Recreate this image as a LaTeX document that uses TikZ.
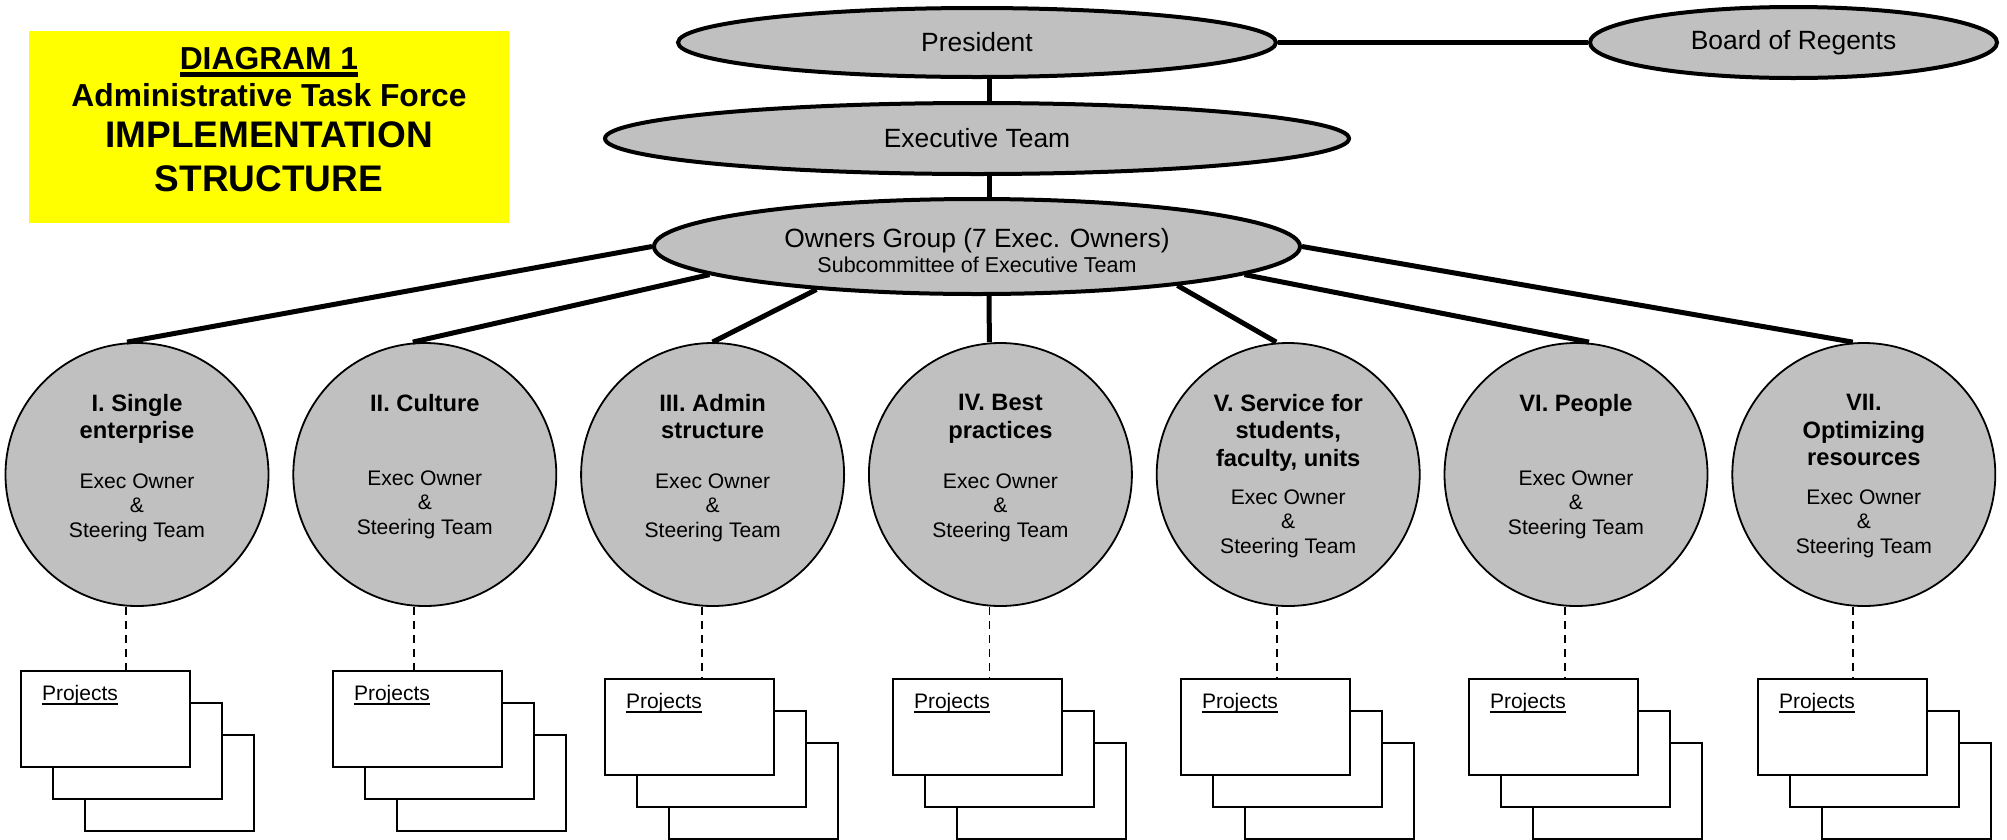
\documentclass[tikz,border=0pt]{standalone}
\usepackage{fontspec}
\setmainfont{Liberation Sans}
\usepackage{tikz}
\usetikzlibrary{shapes,positioning,calc}
\definecolor{ovalGray}{HTML}{C0C0C0}
\definecolor{titleYellow}{HTML}{FFFF00}

% underline with its own depth and thickness
\newcommand{\ulword}[3]{\setbox0=\hbox{#3}\leavevmode\rlap{\rule[#1]{\wd0}{#2}}\box0}

\begin{document}
\begin{tikzpicture}[
            x=1pt, y=-1pt,
            oval/.style={
                    ellipse,
                    draw=black,
                    fill=ovalGray,
                    line width=4pt,
                    inner sep=0pt,
                    font=\fontsize{26.4}{25}\selectfont
                },
            task/.style={
                    circle,
                    draw=black,
                    fill=ovalGray,
                    line width=1.8pt,
                    minimum size=263pt,
                    inner sep=0pt
                },
            taskname/.style={
                    anchor=north,
                    align=center,
                    inner sep=0pt,
                    font=\fontsize{23.7}{27.5}\selectfont\bfseries
                },
            owner/.style={
                    anchor=north,
                    align=center,
                    inner sep=0pt,
                    font=\fontsize{21.1}{24.5}\selectfont
                },
            stack/.style={
                    rectangle,
                    draw=black,
                    fill=white,
                    line width=1.8pt,
                    minimum width=169pt,
                    minimum height=96pt
                },
            projbox/.style={
                    stack,
                    inner xsep=21pt,
                    inner ysep=0pt,
                    text width=127pt,
                    text height=29pt,
                    text depth=67pt,
                    align=left,
                    font=\fontsize{21}{24}\selectfont
                },
            link/.style={
                    line width=5pt
                },
            dashlink/.style={
                    line width=1.8pt,
                    dash pattern=on 8pt off 6pt
                }
        ]
        \useasboundingbox (0,0) rectangle (2007,839);

        % Titre
        \node[fill=titleYellow, minimum width=480pt, minimum height=192pt, inner sep=0pt] (titlebox) at (269,127) {};
        \node[anchor=north, align=center, inner sep=0pt, font=\fontsize{31.8}{37}\selectfont\bfseries] (title) at (269,47.5)
            {\ulword{-6.7pt}{5pt}{DIAGRAM 1}\\ Administrative Task Force\\[4pt]
             \fontsize{37}{41}\selectfont IMPLEMENTATION\\[7pt] \fontsize{37}{41}\selectfont STRUCTURE};

        % Direction
        \node[oval, minimum width=598pt, minimum height=69pt] (pres) at (977,42.5) {President};
        \node[oval, minimum width=744pt, minimum height=71pt, below=22pt of pres] (exec) {Executive Team};
        \node[oval, minimum width=646pt, minimum height=95pt, below=21pt of exec, align=center] (owners)
            {\rule{0pt}{27pt}Owners Group (7 Exec. Owners)\\ \fontsize{21.5}{24}\selectfont Subcommittee of Executive Team};
        \node[oval, minimum width=407pt, minimum height=71pt, right=310pt of pres] (board) {Board of Regents};

        % Sept chantiers
        \node[task] (c1) at (137,474.5) {};
        \node[task, right=23pt of c1] (c2) {};
        \node[task, right=23pt of c2] (c3) {};
        \node[task, right=23pt of c3] (c4) {};
        \node[task, right=23pt of c4] (c5) {};
        \node[task, right=23pt of c5] (c6) {};
        \node[task, right=23pt of c6] (c7) {};

        \node[taskname] (n1) at ([yshift=-52pt]c1.north) {I. Single\\enterprise};
        \node[taskname] (n2) at ([yshift=-52pt]c2.north) {II. Culture};
        \node[taskname] (n3) at ([yshift=-52pt]c3.north) {III. Admin\\structure};
        \node[taskname] (n4) at ([yshift=-52pt]c4.north) {IV. Best\\practices};
        \node[taskname] (n5) at ([yshift=-52pt]c5.north) {V. Service for\\students,\\faculty, units};
        \node[taskname] (n6) at ([yshift=-52pt]c6.north) {VI. People};
        \node[taskname] (n7) at ([yshift=-52pt]c7.north) {VII.\\Optimizing\\resources};

        \node[owner] (o1) at ([yshift=1pt]c1.center) {Exec Owner\\\&\\Steering Team};
        \node[owner] (o2) at ([yshift=4pt]c2.center) {Exec Owner\\\&\\Steering Team};
        \node[owner] (o3) at ([yshift=1pt]c3.center) {Exec Owner\\\&\\Steering Team};
        \node[owner] (o4) at ([yshift=1pt]c4.center) {Exec Owner\\\&\\Steering Team};
        \node[owner] (o5) at ([yshift=-15pt]c5.center) {Exec Owner\\\&\\Steering Team};
        \node[owner] (o6) at ([yshift=4pt]c6.center) {Exec Owner\\\&\\Steering Team};
        \node[owner] (o7) at ([yshift=-15pt]c7.center) {Exec Owner\\\&\\Steering Team};

        % Piles de projets
        \coordinate (p1) at (105.5,719);
        \coordinate (p2) at (417.5,719);
        \coordinate (p3) at (689.5,727);
        \coordinate (p4) at (977.5,727);
        \coordinate (p5) at (1265.5,727);
        \coordinate (p6) at (1553.5,727);
        \coordinate (p7) at (1842.5,727);

        \node[stack] (p1c) at ([shift={(64,64)}]p1) {};
        \node[stack] (p1b) at ([shift={(32,32)}]p1) {};
        \node[projbox] (p1a) at (p1) {\ulword{-4.5pt}{2pt}{Projects}};
        \node[stack] (p2c) at ([shift={(64,64)}]p2) {};
        \node[stack] (p2b) at ([shift={(32,32)}]p2) {};
        \node[projbox] (p2a) at (p2) {\ulword{-4.5pt}{2pt}{Projects}};
        \node[stack] (p3c) at ([shift={(64,64)}]p3) {};
        \node[stack] (p3b) at ([shift={(32,32)}]p3) {};
        \node[projbox] (p3a) at (p3) {\ulword{-4.5pt}{2pt}{Projects}};
        \node[stack] (p4c) at ([shift={(64,64)}]p4) {};
        \node[stack] (p4b) at ([shift={(32,32)}]p4) {};
        \node[projbox] (p4a) at (p4) {\ulword{-4.5pt}{2pt}{Projects}};
        \node[stack] (p5c) at ([shift={(64,64)}]p5) {};
        \node[stack] (p5b) at ([shift={(32,32)}]p5) {};
        \node[projbox] (p5a) at (p5) {\ulword{-4.5pt}{2pt}{Projects}};
        \node[stack] (p6c) at ([shift={(64,64)}]p6) {};
        \node[stack] (p6b) at ([shift={(32,32)}]p6) {};
        \node[projbox] (p6a) at (p6) {\ulword{-4.5pt}{2pt}{Projects}};
        \node[stack] (p7c) at ([shift={(64,64)}]p7) {};
        \node[stack] (p7b) at ([shift={(32,32)}]p7) {};
        \node[projbox] (p7a) at (p7) {\ulword{-4.5pt}{2pt}{Projects}};

        % Liens hierarchiques
        \draw[link] (pres.east) -- (board.west);
        \draw[link] ([xshift=12pt]pres.south) -- ([xshift=12pt]exec.north);
        \draw[link] ([xshift=12pt]exec.south) -- ([xshift=12pt]owners.north);

        \draw[link] (owners.west) -- ([xshift=-10pt]c1.north);
        \draw[link] (owners.186) -- ([xshift=-12pt]c2.north);
        \draw[link] (owners.195) -- (c3.north);
        \draw[link] ([xshift=12pt]owners.south) -- ([xshift=-11pt]c4.north);
        \draw[link] (owners.349.6) -- ([xshift=-12pt]c5.north);
        \draw[link] (owners.354) -- ([xshift=13pt]c6.north);
        \draw[link] (owners.east) -- ([xshift=-11pt]c7.north);

        % Liens vers les projets
        \draw[dashlink] ([xshift=-11pt]c1.south) -- ([xshift=-11pt]c1.south |- p1a.north);
        \draw[dashlink] ([xshift=-11pt]c2.south) -- ([xshift=-11pt]c2.south |- p2a.north);
        \draw[dashlink] ([xshift=-11pt]c3.south) -- ([xshift=-11pt]c3.south |- p3a.north);
        \draw[dashlink] ([xshift=-11pt]c4.south) -- ([xshift=-11pt]c4.south |- p4a.north);
        \draw[dashlink] ([xshift=-11pt]c5.south) -- ([xshift=-11pt]c5.south |- p5a.north);
        \draw[dashlink] ([xshift=-11pt]c6.south) -- ([xshift=-11pt]c6.south |- p6a.north);
        \draw[dashlink] ([xshift=-11pt]c7.south) -- ([xshift=-11pt]c7.south |- p7a.north);

    \end{tikzpicture}
\end{document}
